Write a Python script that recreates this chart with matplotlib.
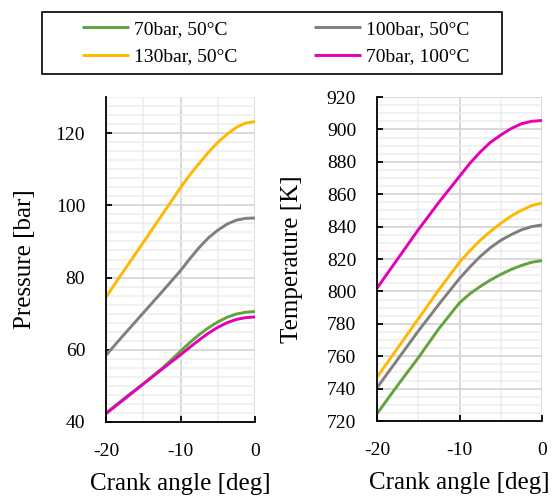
import matplotlib.pyplot as plt
from matplotlib.patches import Rectangle
from matplotlib.ticker import MultipleLocator

plt.rcParams['font.family'] = ['Liberation Serif', 'DejaVu Serif']
plt.rcParams['axes.unicode_minus'] = False

# crank angle [deg]
angle = [-20, -17.5, -15, -12.5, -10, -8.75, -7.5, -6.25, -5, -3.75, -2.5, -1.25, 0]

labels = ['70bar, 50°C', '100bar, 50°C', '130bar, 50°C', '70bar, 100°C']
colors = ['#62A33E', '#7F7F7F', '#FFB800', '#E400B8']

# pressure [bar]
p_70_50 = [42.5, 46.6, 50.6, 54.8, 59.6, 62.0, 64.2, 66.1, 67.7, 69.0, 69.9, 70.4, 70.6]
p_100_50 = [58.5, 64.4, 70.2, 76.0, 81.9, 85.2, 88.3, 91.0, 93.1, 94.8, 95.9, 96.4, 96.5]
p_130_50 = [74.6, 82.2, 89.7, 97.3, 104.9, 108.4, 111.6, 114.7, 117.4, 119.7, 121.6, 122.8, 123.2]
p_70_100 = [42.3, 46.4, 50.5, 54.6, 58.6, 60.7, 62.7, 64.6, 66.2, 67.5, 68.4, 68.9, 69.1]

# temperature [K]
t_70_50 = [724.5, 742, 759, 777, 793, 798.5, 803, 807, 810.5, 813.5, 816, 818, 819]
t_100_50 = [740.5, 758, 775.5, 792, 808, 815, 821.5, 827, 831.5, 835, 838, 840, 841]
t_130_50 = [747, 765, 783, 801, 818, 825, 831.5, 837, 842, 846.5, 850, 853, 854.5]
t_70_100 = [802, 820, 838, 855, 871, 879, 886, 892, 896.5, 900.5, 903.5, 905, 905.5]

pressure = [p_70_50, p_100_50, p_130_50, p_70_100]
temperature = [t_70_50, t_100_50, t_130_50, t_70_100]

fig = plt.figure(figsize=(5.54, 4.97), dpi=100)
ax1 = fig.add_axes([106/554, 1-422/497, 149/554, 325/497])
ax2 = fig.add_axes([377/554, 1-421/497, 165/554, 324/497])


def style(ax, ylim, major, minor):
    ax.set_xlim(-20, 0)
    ax.set_ylim(*ylim)
    ax.xaxis.set_major_locator(MultipleLocator(10))
    ax.xaxis.set_minor_locator(MultipleLocator(5))
    ax.yaxis.set_major_locator(MultipleLocator(major))
    ax.yaxis.set_minor_locator(MultipleLocator(minor))
    ax.grid(which='major', color='#D3D3D3', lw=1.2)
    ax.grid(which='minor', color='#EDEDED', lw=1.1)
    ax.set_axisbelow(True)
    for s in ['top', 'right']:
        ax.spines[s].set_visible(False)
    for s in ['left', 'bottom']:
        ax.spines[s].set_linewidth(1.3)
    ax.tick_params(which='major', direction='in', length=4, width=1.3,
                   labelsize=14, pad=15)
    ax.tick_params(which='minor', length=0)


style(ax1, (40, 130), 20, 2.5)
style(ax2, (720, 920), 20, 5)

lines = []
for i in range(4):
    ln, = ax1.plot(angle, pressure[i], color=colors[i], lw=2.1,
                   clip_on=False, solid_capstyle='butt')
    ax2.plot(angle, temperature[i], color=colors[i], lw=2.1,
             clip_on=False, solid_capstyle='butt')
    lines.append(ln)

ax1.set_ylabel('Pressure [bar]', fontsize=18, va='center')
ax1.yaxis.set_label_coords(-0.544, 0.5)
ax2.set_ylabel('Temperature [K]', fontsize=18, va='center')
ax2.yaxis.set_label_coords(-0.515, 0.5)
for ax, w in [(ax1, 325), (ax2, 324)]:
    ax.set_xlabel('Crank angle [deg]', fontsize=18, va='top')
    ax.xaxis.set_label_coords(0.5, -51/w)

# legend frame
fig.patches.append(Rectangle((42/554, 1-74/497), 460/554, 62/497,
                             transform=fig.transFigure, fill=False,
                             edgecolor='black', lw=1.2))
# matplotlib fills legend columns first, so reorder for row-wise layout
order = [0, 2, 1, 3]
fig.legend([lines[i] for i in order], [labels[i] for i in order],
           loc='center', ncol=2, mode='expand', frameon=False, fontsize=14,
           bbox_to_anchor=(82/554, 1-74/497, 387/554, 62/497),
           borderpad=0, borderaxespad=0, handlelength=2.4,
           handletextpad=0.25, labelspacing=0.5)

fig.savefig('out.png', dpi=100)
